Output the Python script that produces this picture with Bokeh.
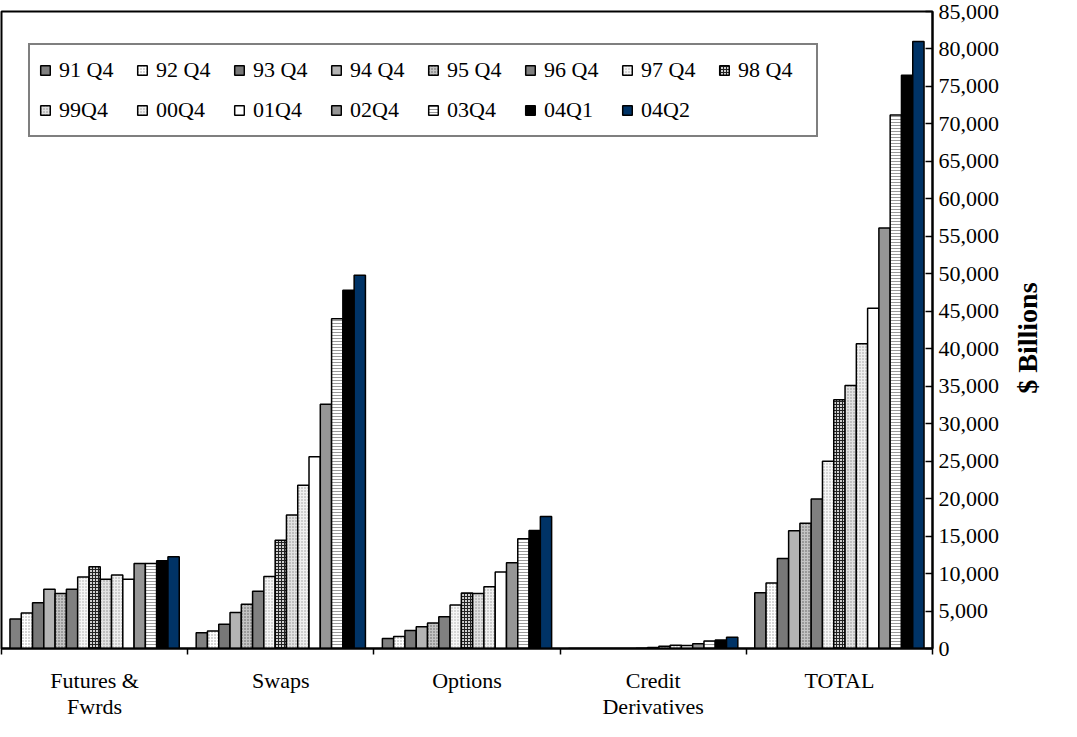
import math
from bokeh.plotting import figure
from bokeh.models import (Range1d, FixedTicker, NumeralTickFormatter, Legend, LegendItem,
                          ColumnDataSource, LinearAxis)
from bokeh.embed import file_html
from bokeh.resources import INLINE

# ---------------- data ----------------
categories = ["Futures &\nFwrds", "Swaps", "Options", "Credit\nDerivatives", "TOTAL"]
series = ["91 Q4", "92 Q4", "93 Q4", "94 Q4", "95 Q4", "96 Q4", "97 Q4", "98 Q4",
          "99Q4", "00Q4", "01Q4", "02Q4", "03Q4", "04Q1", "04Q2"]

futures = [3950, 4750, 6100, 7900, 7350, 7900, 9550, 10900, 9250, 9800, 9250, 11350, 11350, 11700, 12250]
swaps = [2100, 2350, 3250, 4800, 5900, 7650, 9600, 14450, 17800, 21800, 25600, 32600, 44000, 47800, 49800]
options = [1350, 1600, 2400, 2900, 3400, 4250, 5800, 7400, 7350, 8250, 10200, 11450, 14650, 15750, 17600]
credit = [0, 0, 0, 0, 0, 0, 20, 150, 290, 430, 400, 640, 1000, 1150, 1500]
total = [7450, 8750, 12000, 15700, 16700, 19950, 25000, 33200, 35100, 40650, 45400, 56100, 71200, 76500, 81000]

y_ticks = list(range(0, 85001, 5000))
y_title = "$ Billions"
y_title_pos = 34000

# ---------------- styles ----------------
fills = ["#808080", "#ffffff", "#787878", "#b4b4b4", "#c4c4c4", "#808080", "#f6f6f6", "#d0d0d0",
         "#e2e2e2", "#f0f0f0", "#ffffff", "#969696", "#ffffff", "#000000", "#003366"]
hatches = [None, "dot", None, None, "dot", None, "dot", "cross",
           "dot", "dot", None, None, "horizontal_line", None, None]
hatch_cols = [None, "#9a9a9a", None, None, "#5a5a5a", None, "#a8a8a8", "#222222",
              "#8a8a8a", "#9a9a9a", None, None, "#9a9a9a", None, None]

FONT = "Liberation Serif"

p = figure(width=1061, height=721,
           x_range=Range1d(0, 5), y_range=Range1d(0, 85000),
           y_axis_location="right",
           output_backend="svg", toolbar_location=None,
           min_border_left=1, min_border_top=11, min_border_right=0, min_border_bottom=0)

p.background_fill_color = "white"
p.border_fill_color = "white"
p.outline_line_color = "black"
p.outline_line_width = 2
p.xgrid.visible = False
p.ygrid.visible = False

ncat = len(categories)
nser = len(series)
group_vals = [futures, swaps, options, credit, total]
bw = 0.0606

items = []
for i, s in enumerate(series):
    xs = [g + 0.5 + (i - (nser - 1) / 2) * bw for g in range(ncat)]
    tops = [group_vals[g][i] for g in range(ncat)]
    src = ColumnDataSource(dict(x=xs, top=tops))
    kw = dict(x="x", top="top", bottom=0, width=bw, source=src,
              fill_color=fills[i], line_color="black", line_width=1.5)
    if hatches[i]:
        kw.update(hatch_pattern=hatches[i], hatch_color=hatch_cols[i],
                  hatch_scale=3, hatch_weight=1)
    r = p.vbar(**kw)
    items.append(LegendItem(label=s, renderers=[r]))

# x axis
xa = p.xaxis[0]
xa.ticker = FixedTicker(ticks=[g + 0.5 for g in range(ncat)],
                        minor_ticks=[float(g) for g in range(ncat + 1)])
xa.major_label_overrides = {g + 0.5: c for g, c in enumerate(categories)}
xa.major_tick_in = 0
xa.major_tick_out = 0
xa.minor_tick_in = 0
xa.minor_tick_out = 6
xa.minor_tick_line_color = "black"
xa.minor_tick_line_width = 1.5
xa.axis_line_color = "black"
xa.axis_line_width = 2
xa.major_label_text_font = FONT
xa.major_label_text_font_size = "22px"
xa.major_label_text_color = "black"
xa.major_label_text_line_height = 1.05
xa.major_label_standoff = 13

# y axis (right)
ya = p.yaxis[0]
ya.ticker = FixedTicker(ticks=y_ticks, minor_ticks=[])
ya.formatter = NumeralTickFormatter(format="0,0")
ya.major_tick_in = 7
ya.major_tick_out = 0
ya.minor_tick_in = 0
ya.minor_tick_out = 0
ya.major_tick_line_color = "black"
ya.major_tick_line_width = 1.5
ya.axis_line_color = "black"
ya.axis_line_width = 2
ya.major_label_text_font = FONT
ya.major_label_text_font_size = "22px"
ya.major_label_text_color = "black"
ya.major_label_standoff = 6

# axis title reading bottom-to-top: an extra label-only axis on the right
ta = LinearAxis(ticker=FixedTicker(ticks=[y_title_pos], minor_ticks=[]),
                major_label_overrides={y_title_pos: y_title},
                major_label_orientation=math.pi / 2,
                major_tick_in=0, major_tick_out=0, minor_tick_in=0, minor_tick_out=0,
                axis_line_color=None, major_label_standoff=25,
                major_label_text_font=FONT, major_label_text_font_size="28px",
                major_label_text_font_style="bold", major_label_text_color="black")
p.add_layout(ta, "right")

legend = Legend(items=items, location=(27, 511), orientation="horizontal", ncols=8,
                glyph_width=12, glyph_height=12, label_standoff=8, label_width=69,
                label_height=32, spacing=8, padding=9, margin=0,
                label_text_font=FONT, label_text_font_size="22px", label_text_color="black",
                border_line_color="black", border_line_width=2,
                background_fill_color="white", background_fill_alpha=1.0)
p.add_layout(legend, "center")

open("out.html", "w").write(file_html(p, INLINE))
